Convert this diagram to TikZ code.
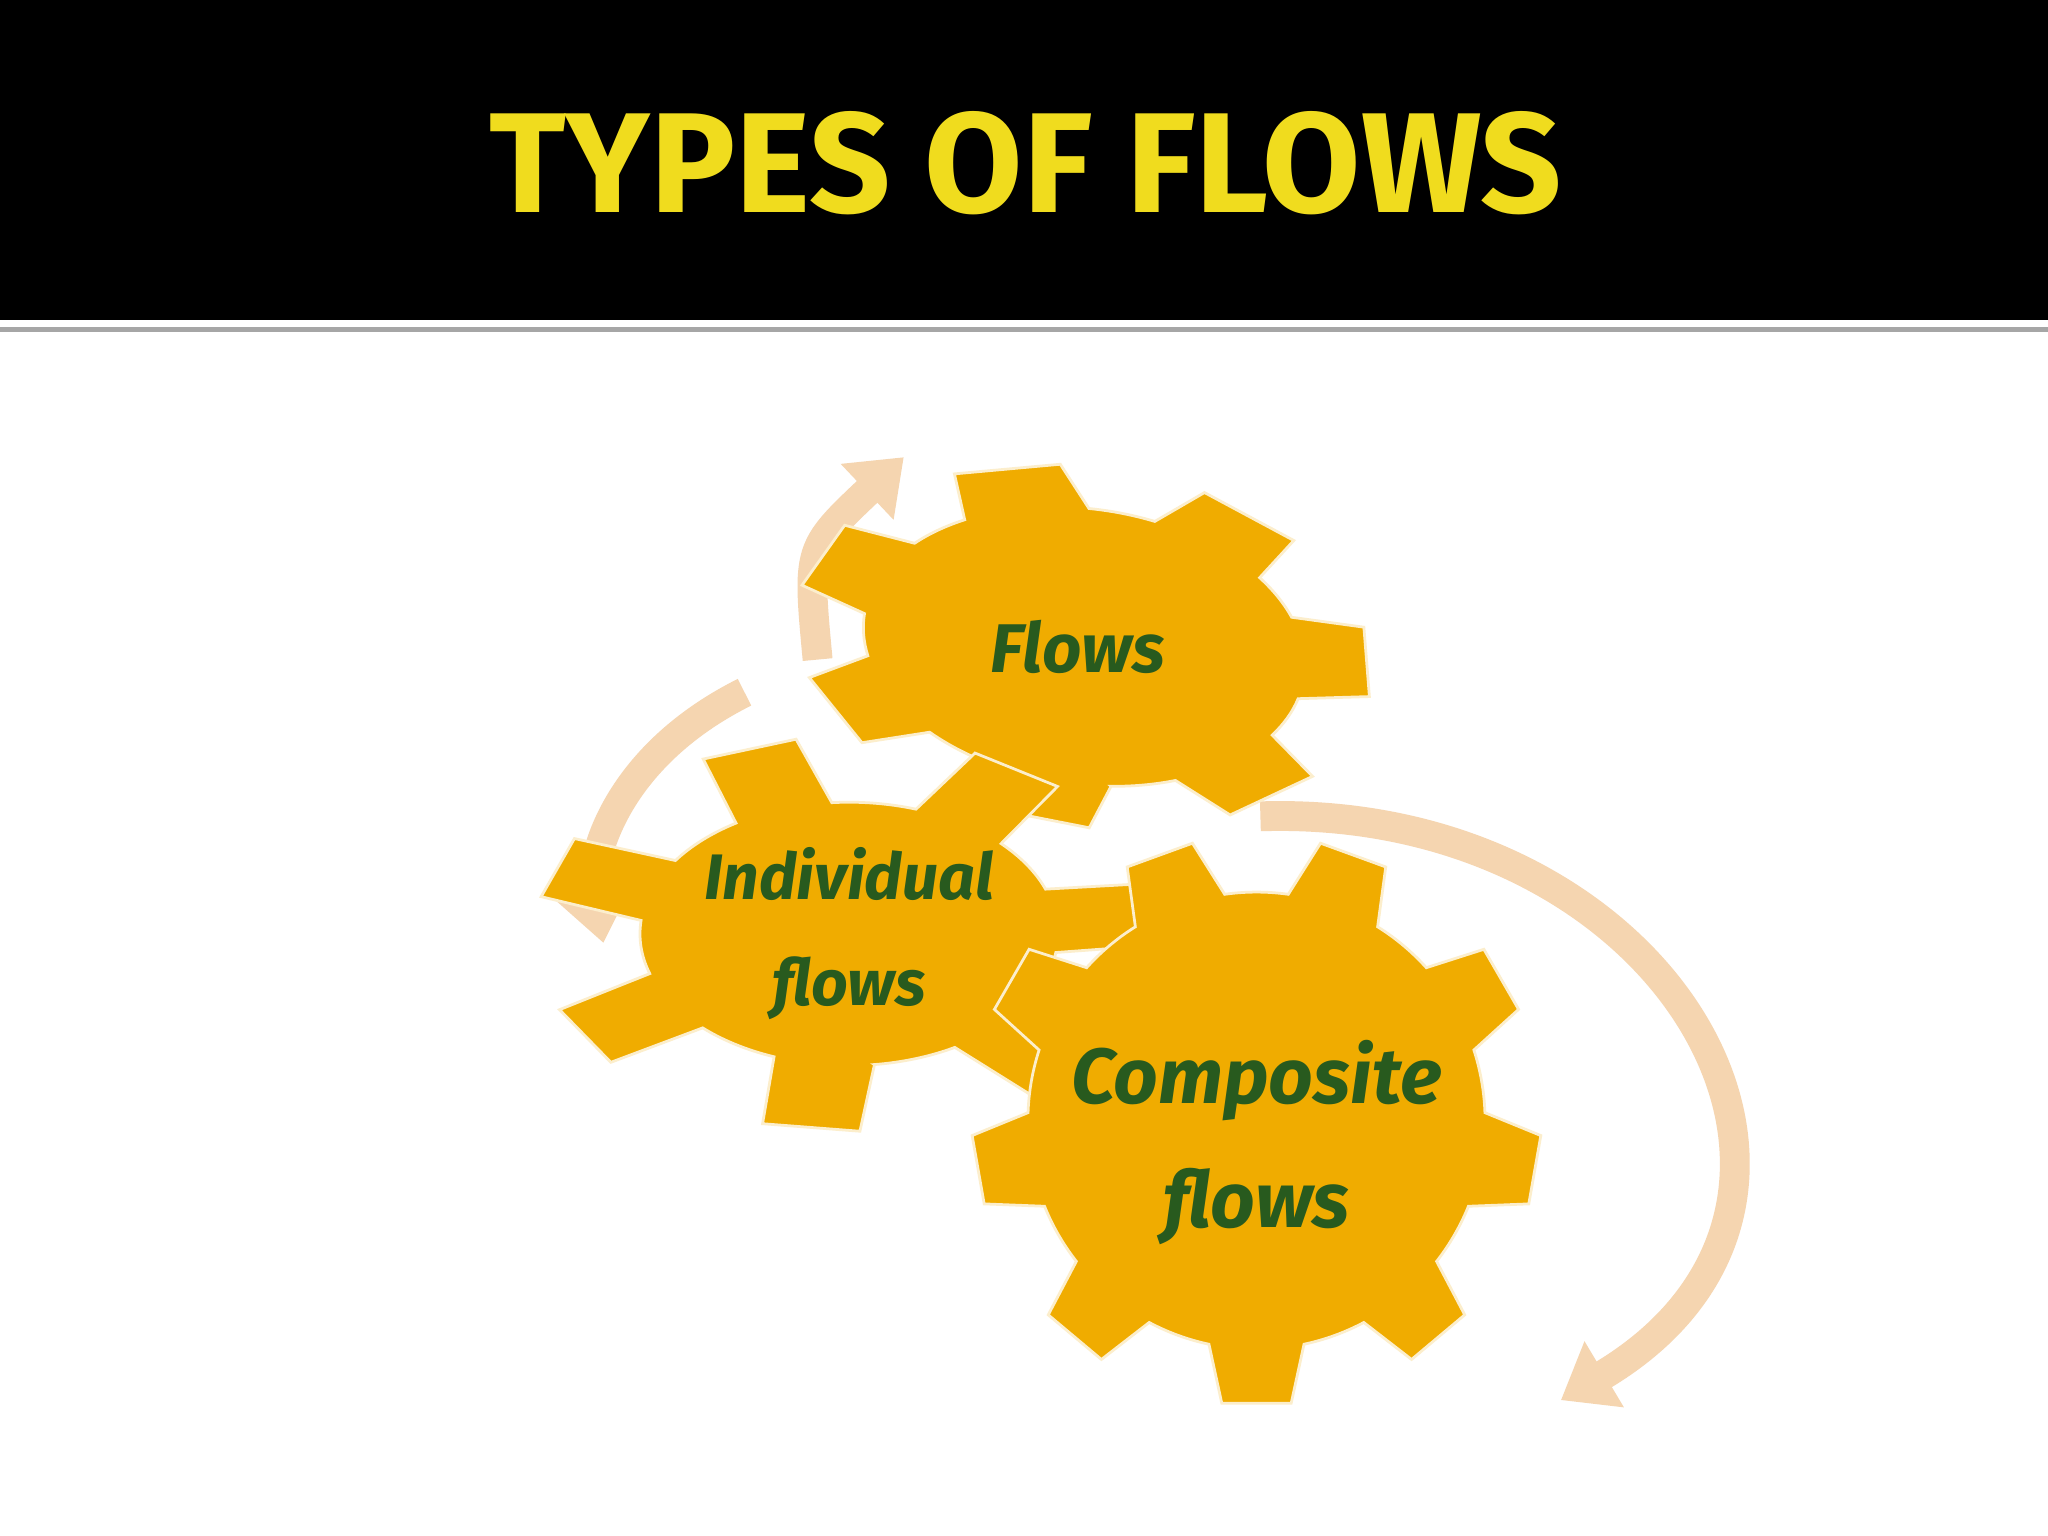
\documentclass[tikz,border=0pt]{standalone}
\usepackage{fontspec}
\setmainfont{Fira Sans}
\usetikzlibrary{arrows.meta}
\definecolor{gearc}{RGB}{240,172,0}
\definecolor{txtc}{RGB}{40,90,30}
\definecolor{arrc}{RGB}{245,213,176}
\definecolor{titc}{RGB}{240,220,30}
\tikzset{
  gearstyle/.style={fill=gearc,draw=white!80!gearc,line width=0.6pt},
  geartext/.style={text=txtc,font=\itshape\bfseries,align=center},
  flowarrow/.style={draw=arrc,line width=6.5pt,-{Triangle[width=16pt,length=11pt]}}
}
% #1 teeth, #2 start angle, #3 inner r, #4 outer r, #5 root half-angle, #6 tip half-angle
\newcommand{\mygear}[6]{%
  \pgfmathsetmacro{\gstep}{360/#1}%
  \path[gearstyle] (#2-#5:#3)
  \foreach \k in {1,...,#1}{
    -- ({#2+(\k-1)*\gstep-#6}:#4) -- ({#2+(\k-1)*\gstep+#6}:#4) -- ({#2+(\k-1)*\gstep+#5}:#3)
    arc[start angle={#2+(\k-1)*\gstep+#5}, end angle={#2+\k*\gstep-#5}, radius=#3]
  } -- cycle;}
\begin{document}
\begin{tikzpicture}[x=0.01cm,y=-0.01cm]
\useasboundingbox (0,0) rectangle (1568,1176);
\fill[white] (0,0) rectangle (1568,1176);
\fill[black] (0,0) rectangle (1568,245);
\fill[gray!70] (0,250) rectangle (1568,254);
\node[text=titc,font=\fontsize{31}{36}\selectfont\bfseries] (title) at (785,125) {TYPES OF FLOWS};
% arrows
\coordinate (a1s) at (626,505); \coordinate (a1e) at (692,350);
\coordinate (a2s) at (570,530); \coordinate (a2e) at (462,722);
\coordinate (a3s) at (965,625); \coordinate (a3e) at (1195,1072);
\draw[flowarrow] (a1s) .. controls (618,420) .. (a1e);
\draw[flowarrow] (a2s) .. controls (470,580) and (450,660) .. (a2e);
\draw[flowarrow] (a3s) .. controls (1280,615) and (1450,920) .. (a3e);
% gears
\begin{scope}[shift={(830,495)},rotate=-8,xscale=1.0,yscale=0.62]
\mygear{7}{95}{170}{222}{17}{11}
\end{scope}
\begin{scope}[shift={(650,715)},xscale=1.0,yscale=0.63]
\mygear{7}{97}{160}{240}{14}{9}
\end{scope}
\begin{scope}[shift={(962,858)}]
\mygear{9}{90}{175}{218}{12}{7}
\end{scope}
\node[geartext,font=\fontsize{15}{18}\selectfont\itshape\bfseries] (flows) at (825,495) {Flows};
\node[geartext,font=\fontsize{14}{23}\selectfont\itshape\bfseries] (ind) at (650,715) {Individual\\flows};
\node[geartext,font=\fontsize{17}{27}\selectfont\itshape\bfseries] (comp) at (962,875) {Composite\\flows};
\end{tikzpicture}
\end{document}
